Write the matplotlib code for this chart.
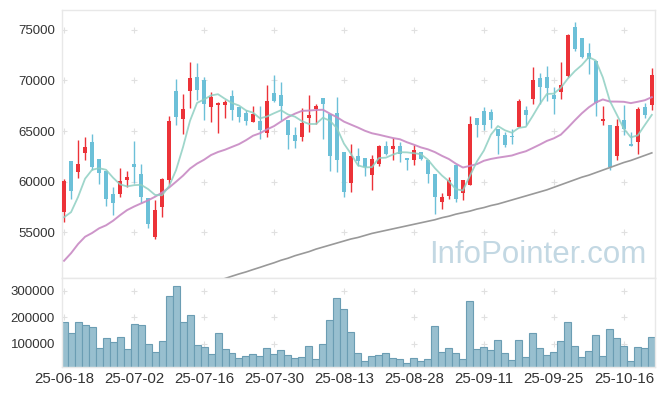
import matplotlib.pyplot as plt
import numpy as np
import pandas as pd

# trading days (KRX), holidays removed
holidays = ['2025-08-15', '2025-10-03', '2025-10-06', '2025-10-07', '2025-10-08', '2025-10-09']
dates = [d for d in pd.bdate_range('2025-06-18', '2025-10-22')
         if d.strftime('%Y-%m-%d') not in holidays]

open_ = [57000, 62000, 61000, 62800, 63900, 62200, 61100, 58800, 58800, 60200,
         61800, 60800, 58400, 54500, 57500, 60200, 69000, 66200, 69000, 70300,
         70000, 67400, 67600, 67600, 68500, 67400, 66800, 65900, 66000, 64800,
         68800, 68600, 66100, 64600, 64400, 66300, 67200, 68300, 66700, 66800,
         62900, 59900, 62500, 62300, 60700, 61800, 63500, 63200, 63500, 62300,
         62100, 62900, 62100, 60800, 58000, 58600, 61700, 58900, 59700, 66300,
         67000, 66900, 65200, 64600, 64500, 65400, 67100, 68200, 70200, 70300,
         68600, 68900, 70400, 75300, 74200, 72700, 71900, 66000, 65600, 62500,
         66100, 63700, 63900, 67400, 67600]
high = [60300, 62000, 64100, 64400, 64700, 62200, 61100, 59500, 61400, 61100,
        64000, 61800, 58400, 58200, 60400, 66500, 70100, 68700, 71800, 71700,
        70300, 68900, 67900, 68100, 69100, 67400, 67100, 67500, 67500, 69500,
        70500, 69800, 66100, 65400, 67300, 68600, 67700, 68300, 66700, 68400,
        62900, 63700, 63300, 62300, 62600, 63600, 64000, 64300, 63900, 62300,
        63600, 62900, 62100, 60800, 58900, 60500, 61700, 60200, 66500, 66300,
        67400, 67200, 65200, 64900, 65200, 68200, 67500, 71300, 70700, 71400,
        69400, 71800, 74600, 75800, 74200, 73700, 71900, 67500, 65600, 66200,
        67600, 64900, 67400, 67800, 71200]
low = [56000, 58300, 60400, 62100, 61200, 59800, 57600, 56700, 58500, 59500,
       59900, 57900, 55400, 54300, 56500, 59800, 65600, 64700, 67300, 68100,
       66100, 65900, 64800, 66300, 66100, 65900, 65600, 65900, 64200, 64400,
       67900, 66100, 63200, 63300, 64000, 64900, 65700, 64200, 61100, 61000,
       58500, 59000, 61600, 60600, 59200, 61600, 62600, 62100, 61900, 61200,
       61700, 62100, 59900, 56800, 57300, 58300, 58000, 58200, 59700, 64400,
       65100, 65300, 62700, 63400, 63700, 65400, 65600, 67700, 67700, 68000,
       66700, 68200, 70300, 72900, 72200, 70600, 66500, 65600, 61200, 62100,
       64600, 63500, 62700, 66300, 67100]
close = [60100, 59100, 61800, 63400, 61500, 60900, 58300, 57900, 60100, 60500,
         61500, 58500, 55800, 57200, 60300, 66000, 66400, 67200, 70200, 69100,
         67700, 68400, 67800, 67900, 67100, 66400, 66000, 66700, 65100, 68000,
         68000, 67500, 64600, 64000, 65800, 66600, 67500, 67700, 62500, 62100,
         59000, 62500, 62000, 61500, 62200, 63500, 62700, 63500, 62700, 62100,
         63100, 62200, 60800, 58500, 58500, 60200, 58300, 60200, 65700, 65600,
         65600, 66100, 64500, 63600, 64400, 68000, 66600, 70000, 69400, 69300,
         68200, 69500, 74500, 73100, 72300, 72100, 67800, 66200, 61500, 65500,
         65200, 63500, 67200, 66600, 70500]
volume = [179800, 138000, 179800, 168400, 160800, 84800, 119000, 105100, 122800, 81000,
          172200, 168400, 100000, 69600, 107600, 278500, 316500, 179800, 206400, 96200,
          88600, 62000, 138000, 81000, 65800, 46800, 54400, 62000, 54400, 84800,
          62000, 77200, 58200, 46800, 50600, 92400, 43000, 100000, 187400, 270900,
          229100, 141800, 65800, 35400, 54400, 58200, 65800, 46800, 43000, 27900,
          46800, 35400, 43000, 164600, 69600, 84800, 65800, 43000, 259500, 81000,
          88600, 77200, 111400, 65800, 39200, 111400, 50600, 138000, 84800, 58200,
          69600, 107600, 179800, 92400, 50600, 73400, 130400, 54400, 153200, 119000,
          92400, 35400, 88600, 84800, 122800]

# averages for the first days (window reaches back before 25-06-18)
ma5_head = [56500, 57000, 58500, 60300]
ma20_head = [52200, 52950, 53850, 54570, 54940, 55400, 55700, 56150, 56700, 57200,
             57550, 57860, 58160, 58520, 58930, 59420, 60000, 60600, 61300]
# long average (gray), visible from about 25-07-18
ma_long = [np.nan] * 22 + [
    50200, 50450, 50680, 50900, 51100, 51330, 51550, 51780, 52000, 52250,
    52450, 52700, 52900, 53100, 53350, 53550, 53750, 53950, 54150, 54350,
    54500, 54700, 54900, 55050, 55200, 55350, 55500, 55650, 55800, 55950,
    56100, 56250, 56450, 56600, 56800, 56950, 57100, 57300, 57450, 57650,
    57800, 58000, 58200, 58400, 58600, 58800, 59000, 59200, 59450, 59700,
    59950, 60200, 60450, 60650, 60900, 61150, 61400, 61650, 61900, 62100,
    62350, 62600, 62850]

x = np.arange(len(dates))
o = np.array(open_)
c = np.array(close)
h = np.array(high)
l = np.array(low)

s = pd.Series(close, dtype=float)
ma5 = s.rolling(5).mean().to_numpy()
ma5[:4] = ma5_head
ma20 = s.rolling(20).mean().to_numpy()
ma20[:19] = ma20_head

tick_pos = x[::10]
tick_labels = [dates[i].strftime('%y-%m-%d') for i in tick_pos]

plt.rcParams['font.family'] = ['Liberation Sans', 'DejaVu Sans']

RED = '#ec3238'
BLUE = '#6cc0d8'
GRID = '#e8e8e8'
TXT = '#333333'

fig = plt.figure(figsize=(6.65, 3.96), dpi=100)
ax = fig.add_axes([0.0932, 0.298, 0.8917, 0.6767])
axv = fig.add_axes([0.0932, 0.0732, 0.8917, 0.2248], sharex=ax)

up = c >= o
cols = np.where(up, RED, BLUE)
ax.vlines(x, l, h, colors=cols, linewidth=1.0, zorder=2)
body_h = np.maximum(np.abs(c - o), 150)
ax.bar(x, body_h, bottom=np.minimum(o, c), width=0.64, color=cols, zorder=3)

ax.plot(x, ma_long, color='#999999', lw=1.2, zorder=4)
ax.plot(x, ma20, color='#c88ac4', lw=1.4, alpha=0.9, zorder=4)
ax.plot(x, ma5, color='#8ecfc2', lw=1.3, alpha=0.85, zorder=4)

ax.text(0.803, 0.085, 'InfoPointer.com', transform=ax.transAxes,
        ha='center', va='center', fontsize=22.5, color='#c3d8e3', zorder=0)

price_ticks = [55000, 60000, 65000, 70000, 75000]
gx, gy = np.meshgrid(tick_pos, price_ticks)
ax.scatter(gx.ravel(), gy.ravel(), marker='+', s=14, color='#e0e0e0', lw=0.8, zorder=1)

ax.set_xlim(-0.3, 84.45)
ax.set_ylim(50500, 76950)
ax.set_yticks(price_ticks)
ax.set_yticklabels([str(v) for v in price_ticks])
ax.tick_params(axis='x', labelbottom=False, length=0)
ax.tick_params(axis='y', length=0, pad=5, labelsize=9.5, labelcolor=TXT)

axv.bar(x, volume, width=1.0, color='#98bfcf', edgecolor='#6b9db3', linewidth=0.8, zorder=2)
vol_ticks = [100000, 200000, 300000]
gx, gy = np.meshgrid(tick_pos, vol_ticks)
axv.scatter(gx.ravel(), gy.ravel(), marker='+', s=14, color='#e0e0e0', lw=0.8, zorder=1)
axv.set_ylim(11000, 348000)
axv.set_yticks(vol_ticks)
axv.set_yticklabels([str(v) for v in vol_ticks])
axv.set_xticks(tick_pos)
axv.set_xticklabels(tick_labels)
axv.tick_params(axis='both', length=0, labelsize=9.5, labelcolor=TXT)
axv.tick_params(axis='y', pad=5)
axv.tick_params(axis='x', pad=3.5, labelsize=10.8)

for a in (ax, axv):
    for sp in a.spines.values():
        sp.set_color(GRID)
        sp.set_linewidth(1.0)

fig.savefig('out.png', dpi=100)
